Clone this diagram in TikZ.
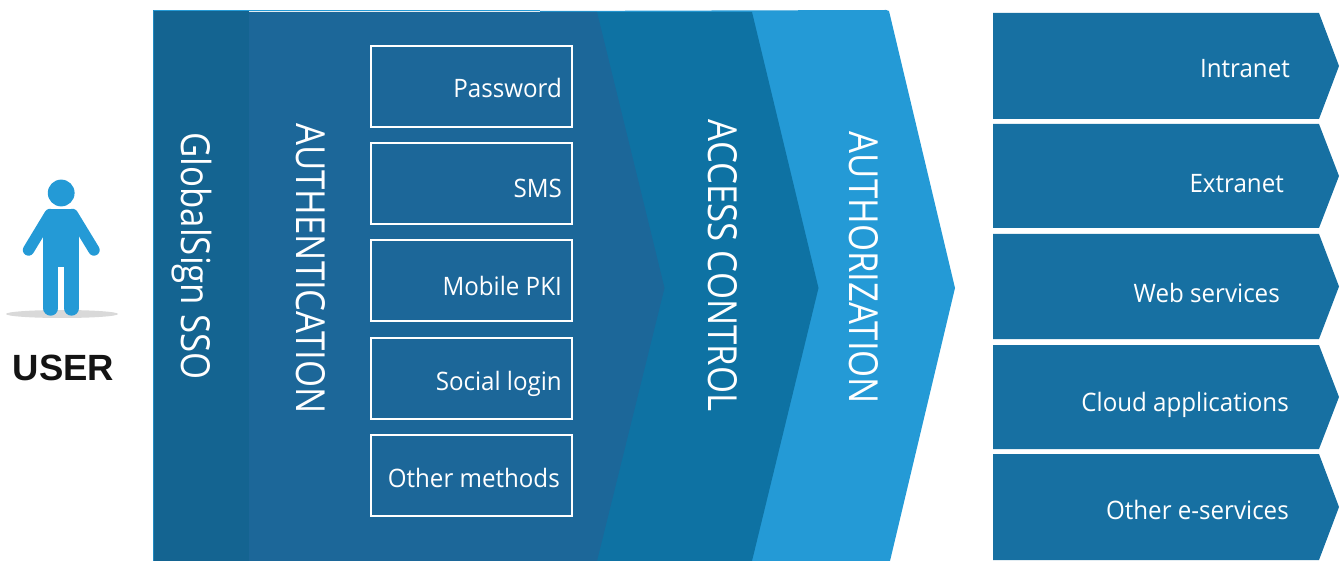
\documentclass[tikz,border=0pt]{standalone}
\usepackage{fontspec}
\setmainfont{Open Sans}
\newfontfamily\userfont{Liberation Sans}
\newfontfamily\rotfont[FakeStretch=0.87]{Open Sans}
\newfontfamily\lblfont[FakeStretch=0.95]{Open Sans}
\definecolor{ssoC}{HTML}{146491}
\definecolor{authC}{HTML}{1C6799}
\definecolor{accC}{HTML}{0E72A3}
\definecolor{azC}{HTML}{249AD6}
\definecolor{svcC}{HTML}{1770A2}
\definecolor{shadowC}{HTML}{D9D9D9}
\tikzset{
  x=1pt,y=-1pt,
  rotlabel/.style={rotate=-90,text=white,font=\rotfont\fontsize{40}{40}\selectfont,inner sep=0pt,anchor=base},
  methodbox/.style={draw=white,line width=2pt,fill=none,minimum width=201pt,minimum height=81pt,inner sep=0pt},
  boxlabel/.style={text=white,font=\lblfont\fontsize{25.4}{26}\selectfont,inner sep=0pt,anchor=base east},
  limb/.style={draw=azC,line cap=round,line join=round}
}
\begin{document}
\begin{tikzpicture}
\useasboundingbox (0,0) rectangle (1344,561);
% chevrons
\fill[azC] (540,11) -- (886,10) -- (889,11) -- (955,288) -- (890,561) -- (540,561) -- cycle;
\fill[accC] (540,12) -- (752,12) -- (818.5,288) -- (752,561) -- (540,561) -- cycle;
\fill[authC] (153,12) -- (597,12) -- (664.5,288) -- (597,561) -- (153,561) -- cycle;
\fill[azC] (153,10) rectangle (540,11.5);
\fill[ssoC] (153,11) rectangle (249,561);
\fill[azC!70!ssoC] (153,10) rectangle (153.8,561);
% labels in bands
\node[rotlabel] (sso) at (181.5,256) {GlobalSign SSO};
\node[rotlabel] (auth) at (296.5,268.5) {AUTHENTICATION};
\node[rotlabel] (acc) at (708,265.5) {ACCESS CONTROL};
\node[rotlabel] (az) at (849.5,268) {AUTHORIZATION};
% method boxes
\node[methodbox] (b1) at (471.5,87) {};
\node[methodbox] (b2) at (471.5,184) {};
\node[methodbox] (b3) at (471.5,281) {};
\node[methodbox] (b4) at (471.5,378) {};
\node[methodbox] (b5) at (471.5,475) {};
\node[boxlabel] (t1) at (562,97.7) {Password};
\node[boxlabel] (t2) at (562,197.7) {SMS};
\node[boxlabel] (t3) at (562,295.7) {Mobile PKI};
\node[boxlabel] (t4) at (562,390.7) {Social login};
\node[boxlabel] (t5) at (560,487.7) {Other methods};
% service arrows
\foreach \t/\b in {13/119,124/228,234/339,345/449,454/560}{
  \fill[svcC] (993,\t) -- (1319,\t) -- (1339,{(\t+\b)/2}) -- (1319,\b) -- (993,\b) -- cycle;
}
\node[boxlabel] (v1) at (1290,77.7) {Intranet};
\node[boxlabel] (v2) at (1284,192.7) {Extranet};
\node[boxlabel] (v3) at (1280,302.7) {Web services};
\node[boxlabel] (v4) at (1289,411.7) {Cloud applications};
\node[boxlabel] (v5) at (1289,519.2) {Other e-services};
% user
\fill[shadowC] (62,314) ellipse [x radius=56, y radius=4];
\fill[azC] (61.2,193) circle [radius=13.4];
\draw[limb,line width=11.4pt] (50,214.5) -- (28.5,250);
\draw[limb,line width=11.4pt] (72.4,214.5) -- (94,250);
\draw[limb,line width=15pt] (50.8,240) -- (50.8,308.2);
\draw[limb,line width=15pt] (71.5,240) -- (71.5,308.2);
\fill[azC] (50,208.8) rectangle (72.4,225);
\fill[azC] (43.3,222) rectangle (79,266.7);
\node[text=black!92,font=\userfont\bfseries\fontsize{36.5}{37}\selectfont,inner sep=0pt,anchor=base] (user) at (63.5,380.5) {USER};
\end{tikzpicture}
\end{document}
